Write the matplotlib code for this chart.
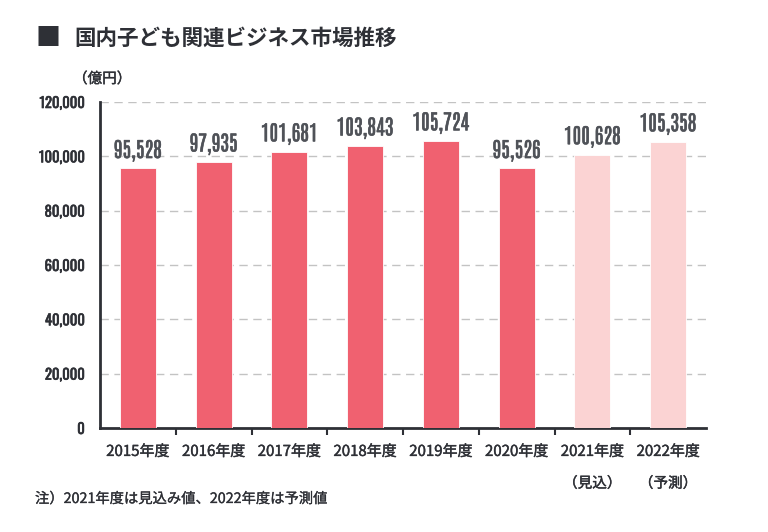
import matplotlib
matplotlib.use("Agg")
import matplotlib.pyplot as plt
import matplotlib.patheffects as pe

plt.rcParams['font.family'] = ['Noto Sans CJK JP', 'DejaVu Sans']

# --- data ---
years = ['2015年度', '2016年度', '2017年度', '2018年度',
         '2019年度', '2020年度', '2021年度', '2022年度']
notes = ['', '', '', '', '', '', '（見込）', '（予測）']
market = [95528, 97935, 101681, 103843, 105724, 95526, 100628, 105358]
is_estimate = [False, False, False, False, False, False, True, True]
y_ticks = [0, 20000, 40000, 60000, 80000, 100000, 120000]

RED = '#f06170'
PINK = '#fbd3d3'
DARK = '#2e3036'
GREY_NUM = '#4f5258'
LABEL_FONT = ['Antonio', 'DejaVu Sans']
TICK_FONT = ['Oswald', 'DejaVu Sans']


def heavy(color, w=0.5):
    # thin stroke around glyphs to get a slightly heavier weight
    return [pe.withStroke(linewidth=w, foreground=color)]


fig = plt.figure(figsize=(7.68, 5.32), dpi=100)
ax = fig.add_axes([100 / 768, 1 - 428 / 532, 606 / 768, 326 / 532])

x = list(range(len(years)))
colors = [PINK if e else RED for e in is_estimate]
bars = ax.bar(x, market, width=0.475, color=colors, edgecolor='white',
              linewidth=0.6, zorder=3)

ax.bar_label(bars, labels=[f'{v:,}' for v in market], padding=5,
             fontsize=15, color=GREY_NUM, family=LABEL_FONT,
             fontstretch='condensed', path_effects=heavy(GREY_NUM, 0.4))

ax.set_xlim(-0.5, len(years) - 0.5)
ax.set_ylim(0, 120000)
ax.set_yticks(y_ticks)
ax.set_yticklabels([f'{v:,}' for v in y_ticks], family=TICK_FONT,
                   fontstretch='condensed', fontsize=10.5, color=DARK)
for t in ax.get_yticklabels():
    t.set_path_effects(heavy(DARK, 0.45))
ax.tick_params(axis='y', length=0, pad=11)

# grid lines (skip 0)
for v in y_ticks[1:]:
    ax.axhline(v, color='#c3c3c3', linewidth=1, linestyle=(0, (6, 4)), zorder=1)

# x ticks: labels at centers, small marks at category boundaries
ax.set_xticks(x)
ax.set_xticklabels(years, fontsize=10.8, color=DARK)
for t in ax.get_xticklabels():
    t.set_path_effects(heavy(DARK, 0.3))
ax.tick_params(axis='x', which='major', length=0, pad=12)
ax.set_xticks([i + 0.5 for i in x[:-1]], minor=True)
ax.tick_params(axis='x', which='minor', length=5, width=1.5, color=DARK)
for i, n in enumerate(notes):
    if n:
        ax.annotate(n, xy=(i, 0), xycoords=('data', 'axes fraction'),
                    xytext=(0, -40), textcoords='offset points',
                    ha='center', va='center', fontsize=10.5, color=DARK,
                    path_effects=heavy(DARK, 0.3))

for s in ['top', 'right']:
    ax.spines[s].set_visible(False)
for s in ['left', 'bottom']:
    ax.spines[s].set_color(DARK)
    ax.spines[s].set_linewidth(2)

# title and units
fig.text(36 / 768, 1 - 38 / 532, '■', fontsize=18, color=DARK,
         va='center', ha='left', fontweight='bold')
fig.text(74 / 768, 1 - 38 / 532, '国内子ども関連ビジネス市場推移', fontsize=15.5,
         color=DARK, va='center', ha='left', fontweight='bold')
fig.text(73 / 768, 1 - 79 / 532, '（億円）', fontsize=10.5, color=DARK,
         va='center', ha='left', path_effects=heavy(DARK, 0.3))
fig.text(35 / 768, 1 - 499 / 532, '注）2021年度は見込み値、2022年度は予測値',
         fontsize=10.3, color=DARK, va='center', ha='left',
         path_effects=heavy(DARK, 0.2))

fig.savefig('out.png', dpi=100)
